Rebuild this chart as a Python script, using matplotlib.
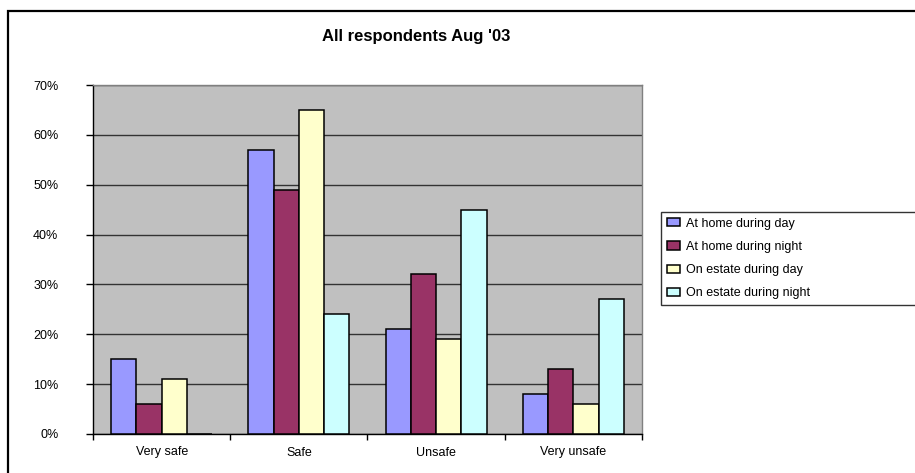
import numpy as np
import matplotlib
matplotlib.use("Agg")
import matplotlib.pyplot as plt
from matplotlib.patches import Rectangle

# ---- data ----
categories = ["Very safe", "Safe", "Unsafe", "Very unsafe"]
series_names = ["At home during day", "At home during night",
                "On estate during day", "On estate during night"]
home_day = [15, 57, 21, 8]
home_night = [6, 49, 32, 13]
estate_day = [11, 65, 19, 6]
estate_night = [0, 24, 45, 27]
yticks = [0, 10, 20, 30, 40, 50, 60, 70]

colours = ["#9999FF", "#993366", "#FFFFCC", "#CCFFFF"]

plt.rcParams['font.family'] = ['Liberation Sans', 'DejaVu Sans']

W, H = 915, 473
fig = plt.figure(figsize=(W / 100, H / 100), dpi=100)
ax = fig.add_axes([93 / W, 1 - 434 / H, (642 - 93) / W, (434 - 85) / H])
ax.set_facecolor("#C0C0C0")

x = np.arange(len(categories))
w = 0.184
allvals = [home_day, home_night, estate_day, estate_night]
for i, vals in enumerate(allvals):
    ax.bar(x + (i - 1.5) * w, vals, width=w, color=colours[i],
           edgecolor="black", linewidth=1.1, label=series_names[i], zorder=3)

ax.set_xlim(-0.5, len(categories) - 0.5)
ax.set_ylim(0, 70)
ax.set_yticks(yticks)
ax.set_yticklabels(["%d%%" % v for v in yticks])
ax.yaxis.grid(True, color="#333333", linewidth=1.0, zorder=1)
ax.set_axisbelow(True)

ax.set_xticks(np.arange(-0.5, len(categories)))
ax.set_xticklabels([])
ax.set_xticks(x, minor=True)
ax.set_xticklabels(categories, minor=True)
ax.tick_params(axis="x", which="major", direction="out", length=4, width=1, color="black")
ax.tick_params(axis="x", which="minor", length=0, pad=9, labelsize=9)
ax.tick_params(axis="y", direction="out", length=5, width=1, pad=20, labelsize=9)

for side in ["top", "right"]:
    ax.spines[side].set_color("#808080")
    ax.spines[side].set_linewidth(1.0)
for side in ["left", "bottom"]:
    ax.spines[side].set_color("black")
    ax.spines[side].set_linewidth(1.0)

fig.text(416 / W, 1 - 37 / H, "All respondents Aug '03", ha="center", va="center",
         fontsize=12, fontweight="bold")

leg = fig.legend(loc="upper left", bbox_to_anchor=(661 / W, 0, 1.0, 1 - 212 / H),
                 mode="expand", fontsize=9, frameon=True, fancybox=False,
                 edgecolor="black", handlelength=1.05, handleheight=0.65,
                 handletextpad=0.5, labelspacing=0.9, borderpad=0.45,
                 borderaxespad=0)
leg.get_frame().set_linewidth(1.0)

fig.patches.append(Rectangle((8 / W, -0.1), 1.2, 1 - 11 / H + 0.1,
                             transform=fig.transFigure, fill=False,
                             edgecolor="black", linewidth=1.6))

fig.savefig("out.png", dpi=100)
